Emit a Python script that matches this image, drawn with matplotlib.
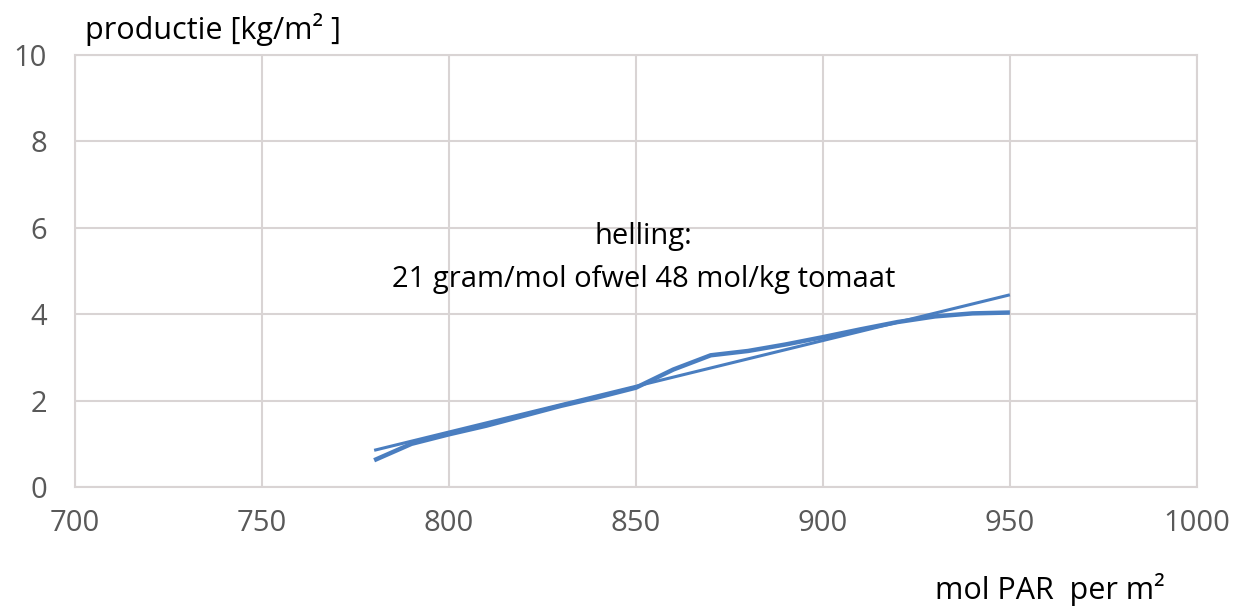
import matplotlib
matplotlib.use("Agg")
import matplotlib.pyplot as plt

# gemeten productie tegen cumulatieve PAR
par = [780, 790, 800, 810, 820, 830, 840, 850, 860, 870, 880, 890, 900, 910, 920, 930, 940, 950]
productie = [0.62, 1.0, 1.22, 1.42, 1.65, 1.88, 2.08, 2.3, 2.72, 3.05, 3.15, 3.3, 3.47, 3.65, 3.82, 3.95, 4.02, 4.04]

# lineaire trendlijn (eindpunten)
trend_x = [780, 950]
trend_y = [0.85, 4.45]

x_ticks = [700, 750, 800, 850, 900, 950, 1000]
y_ticks = [0, 2, 4, 6, 8, 10]

blue = "#4a7ec0"
grid = "#d9d4d4"
tickc = "#595959"

plt.rcParams["font.family"] = ["Open Sans", "DejaVu Sans"]

fig = plt.figure(figsize=(12.39, 6.12), dpi=100)
ax = fig.add_axes([0.0605, 0.2042, 0.9055, 0.7058])

ax.plot(trend_x, trend_y, color=blue, lw=2.2, solid_capstyle="butt")
ax.plot(par, productie, color=blue, lw=3.2, solid_capstyle="butt", solid_joinstyle="round")

ax.set_xlim(700, 1000)
ax.set_ylim(0, 10)
ax.set_xticks(x_ticks)
ax.set_yticks(y_ticks)
ax.grid(True, color=grid, lw=1.5)
ax.set_axisbelow(True)
for s in ax.spines.values():
    s.set_color(grid)
    s.set_linewidth(1.5)
ax.tick_params(length=0, labelsize=21, colors=tickc)
ax.tick_params(axis="x", pad=16)
ax.tick_params(axis="y", pad=20)

fig.text(85 / 1239, 1 - 30 / 612, "productie [kg/m² ]", fontsize=22, color="black",
         va="center", ha="left")
fig.text(1165 / 1239, 1 - 590 / 612, "mol PAR  per m²", fontsize=22, color="black",
         va="center", ha="right")
ax.text(852, 5.3, "helling:\n21 gram/mol ofwel 48 mol/kg tomaat", fontsize=21,
        color="black", ha="center", va="center", linespacing=1.6, multialignment="center")

fig.savefig("out.png", dpi=100)
